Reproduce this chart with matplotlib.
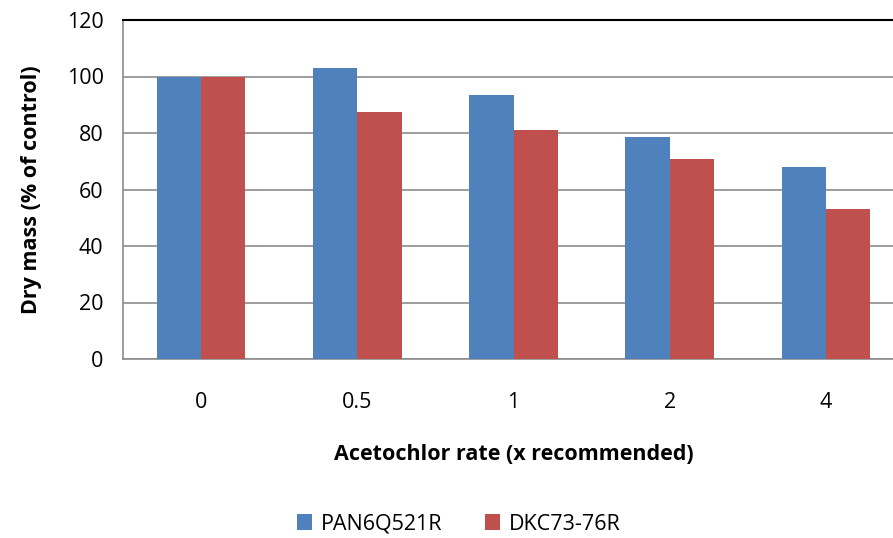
import numpy as np
import matplotlib
matplotlib.use("Agg")
import matplotlib.pyplot as plt

plt.rcParams['font.family'] = ['Open Sans', 'DejaVu Sans']

rates = ['0', '0.5', '1', '2', '4']
pan = [100, 103, 93.5, 78.6, 68.0]
dkc = [100, 87.4, 81.1, 70.8, 53.2]

fig = plt.figure(figsize=(8.93, 5.38), dpi=100)
ax = fig.add_axes([123/893, 1 - 359/538, 781/893, 339/538])

x = np.arange(len(rates))
w = 0.284
ax.bar(x - w/2, pan, w, color='#4F81BD', label='PAN6Q521R', zorder=3)
ax.bar(x + w/2, dkc, w, color='#C0504D', label='DKC73-76R', zorder=3)

ax.set_xlim(-0.5, len(rates) - 0.5)
ax.set_ylim(0, 120)
ax.set_yticks(range(0, 121, 20))
ax.set_xticks(x)
ax.set_xticklabels(rates)
ax.yaxis.grid(True, color='#8c8c8c', linewidth=1.2, zorder=0)
ax.tick_params(length=0, labelsize=15.5)
ax.tick_params(axis='x', pad=24)
ax.tick_params(axis='y', pad=14)
for s in ['top', 'right']:
    ax.spines[s].set_visible(False)
ax.spines['left'].set_color('#8c8c8c')
ax.spines['bottom'].set_color('#8c8c8c')
ax.spines['left'].set_linewidth(1.2)
ax.spines['bottom'].set_linewidth(1.2)
ax.axhline(120, color='black', linewidth=1.5, zorder=4, clip_on=False)

ax.set_ylabel('Dry mass (% of control)', fontsize=15.5, fontweight='bold', labelpad=18)
ax.set_xlabel('Acetochlor rate (x recommended)', fontsize=15.5, fontweight='bold', labelpad=22)

fig.legend(loc='center', bbox_to_anchor=(459/893, 1 - 524/538), ncol=2, frameon=False,
           fontsize=15.5, handlelength=0.7, handleheight=0.7, columnspacing=2.0, handletextpad=0.4)

fig.savefig('out.png', dpi=100)
